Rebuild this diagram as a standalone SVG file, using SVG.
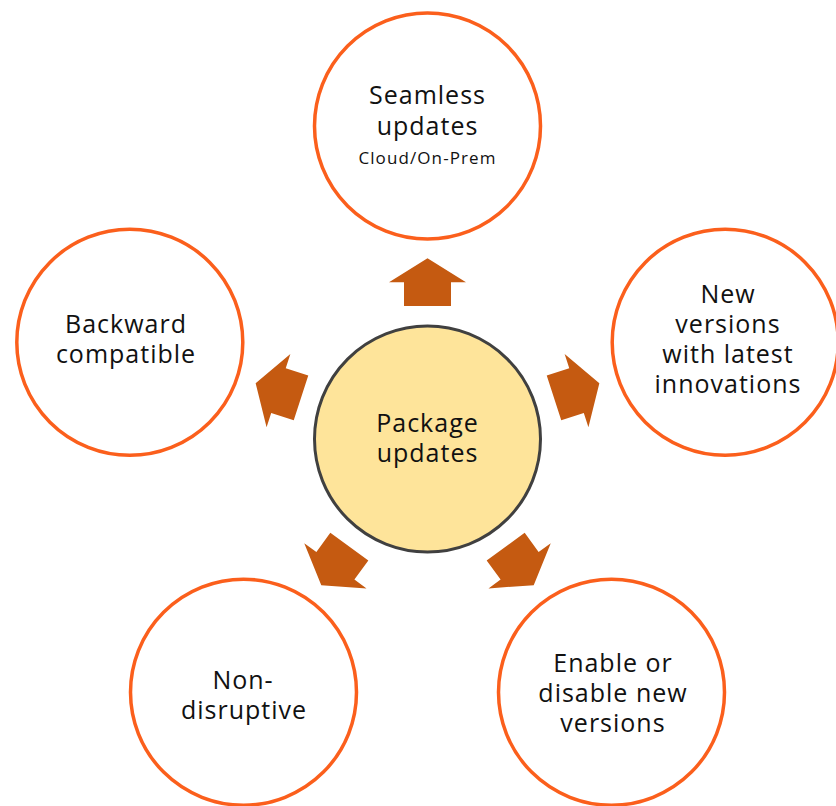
<svg xmlns="http://www.w3.org/2000/svg" width="836" height="806" viewBox="0 0 836 806">
<style>
.outer{fill:#fff;stroke:#FB5F1C;stroke-width:3.5}
.center{fill:#FEE49A;stroke:#404040;stroke-width:3}
.t{font-family:"Open Sans","Noto Sans","Liberation Sans",sans-serif;font-size:25px;letter-spacing:1px;fill:#111;text-anchor:middle}
.s{font-size:17px;letter-spacing:1.1px}
.arrow{fill:#C55A11}
</style>
<defs>
<polygon id="arr" points="427.5,258.3 466,282.3 451,282.3 451,306 404,306 404,282.3 389,282.3"/>
</defs>
<g id="connectors" class="arrow">
<use href="#arr"/>
<use href="#arr" transform="rotate(72 427.5 439)"/>
<use href="#arr" transform="rotate(144 427.5 439)"/>
<use href="#arr" transform="rotate(216 427.5 439)"/>
<use href="#arr" transform="rotate(288 427.5 439)"/>
</g>
<g id="center">
<circle class="center" cx="427.5" cy="439" r="113"/>
<text class="t" x="427.5" y="432">Package</text>
<text class="t" x="427.5" y="462">updates</text>
</g>
<g id="seamless">
<circle class="outer" cx="427.5" cy="126" r="113"/>
<text class="t" x="427.5" y="104">Seamless</text>
<text class="t" x="427.5" y="135">updates</text>
<text class="t s" x="427.5" y="164">Cloud/On-Prem</text>
</g>
<g id="newversions">
<circle class="outer" cx="725.2" cy="342.3" r="113"/>
<text class="t" x="728" y="303">New</text>
<text class="t" x="728" y="333">versions</text>
<text class="t" x="728" y="363">with latest</text>
<text class="t" x="728" y="393">innovations</text>
</g>
<g id="enable">
<circle class="outer" cx="611.5" cy="692.2" r="113"/>
<text class="t" x="613" y="672">Enable or</text>
<text class="t" x="613" y="702">disable new</text>
<text class="t" x="613" y="732">versions</text>
</g>
<g id="nondisruptive">
<circle class="outer" cx="243.5" cy="692.2" r="113"/>
<text class="t" x="243" y="689">Non-</text>
<text class="t" x="244" y="719">disruptive</text>
</g>
<g id="backward">
<circle class="outer" cx="129.8" cy="342.3" r="113"/>
<text class="t" x="126" y="333">Backward</text>
<text class="t" x="126" y="363">compatible</text>
</g>
</svg>
